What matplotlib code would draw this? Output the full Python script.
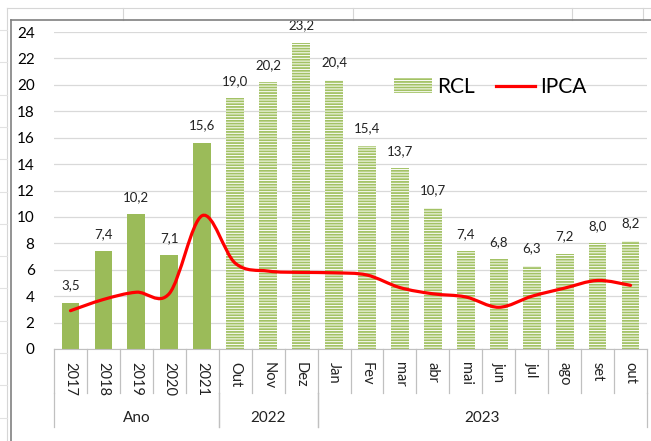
import matplotlib
matplotlib.use("Agg")
import matplotlib.pyplot as plt
import numpy as np
from matplotlib.path import Path
from matplotlib.patches import PathPatch, Patch
from matplotlib.lines import Line2D

plt.rcParams['font.family'] = ['Lato', 'DejaVu Sans']
plt.rcParams['hatch.linewidth'] = 1.3

categories = ['2017', '2018', '2019', '2020', '2021', 'Out', 'Nov', 'Dez',
              'Jan', 'Fev', 'mar', 'abr', 'mai', 'jun', 'jul', 'ago', 'set', 'out']
groups = ['Ano', '2022', '2023']
group_sizes = [5, 3, 10]
rcl = [3.5, 7.4, 10.2, 7.1, 15.6, 19.0, 20.2, 23.2, 20.4, 15.4, 13.7, 10.7,
       7.4, 6.8, 6.3, 7.2, 8.0, 8.2]
ipca = [2.9, 3.75, 4.3, 4.2, 10.1, 6.5, 5.9, 5.8, 5.77, 5.6, 4.65, 4.18,
        3.94, 3.16, 3.99, 4.61, 5.19, 4.82]

green = '#9bbb59'
hatch_green = '#a3c265'
grid_gray = '#d9d9d9'
sep_gray = '#c0c0c0'

W, H = 651, 441
fig = plt.figure(figsize=(W / 100, H / 100), dpi=100)
ax = fig.add_axes([54 / W, 1 - 349 / H, (647 - 54) / W, 317 / H])

x = np.arange(len(categories))
n_solid = group_sizes[0]

ax.bar(x[:n_solid], rcl[:n_solid], width=0.54, color=green, zorder=2)
ax.bar(x[n_solid:], rcl[n_solid:], width=0.54, facecolor='white',
       edgecolor=hatch_green, hatch='------', linewidth=0, zorder=2)

for xi, v in zip(x, rcl):
    ax.annotate(f"{v:.1f}".replace('.', ','), (xi, v), xytext=(0, 12.5),
                textcoords='offset points', ha='center', va='center',
                fontsize=9.5, color='#222222')

# smoothed line (Excel-like bezier through points)
pts = np.column_stack([x, ipca]).astype(float)
ext = np.vstack([pts[0], pts, pts[-1]])
verts = [tuple(pts[0])]
codes = [Path.MOVETO]
for i in range(len(pts) - 1):
    p0, p1, p2, p3 = ext[i], ext[i + 1], ext[i + 2], ext[i + 3]
    c1 = p1 + (p2 - p0) / 6
    c2 = p2 - (p3 - p1) / 6
    verts += [tuple(c1), tuple(c2), tuple(p2)]
    codes += [Path.CURVE4] * 3
ax.add_patch(PathPatch(Path(verts, codes), facecolor='none', edgecolor='#ff0000',
                       linewidth=2.3, capstyle='round', zorder=3))

ax.set_xlim(-0.5, len(categories) - 0.5)
ax.set_ylim(0, 24)
ax.set_yticks(range(0, 25, 2))
ax.tick_params(axis='y', length=0, pad=14, labelsize=11)
ax.grid(axis='y', color=grid_gray, linewidth=0.9, zorder=0)
ax.set_axisbelow(True)
for s in ['left', 'right', 'top']:
    ax.spines[s].set_visible(False)
ax.spines['bottom'].set_color(sep_gray)
ax.set_xticks([])

# category labels and separators
tr = ax.get_xaxis_transform()
for xi, lab in zip(x, categories):
    ax.text(xi, -0.04, lab, transform=tr, rotation=-90, ha='center', va='top',
            fontsize=10.5, color='#222222')
for b in np.arange(-0.5, len(categories), 1.0):
    ax.plot([b, b], [0, -0.139], transform=tr, color=sep_gray, lw=0.9, clip_on=False)
start = -0.5
for g, n in zip(groups, group_sizes):
    end = start + n
    ax.plot([start, start], [-0.139, -0.246], transform=tr, color=sep_gray, lw=0.9, clip_on=False)
    ax.plot([end, end], [-0.139, -0.246], transform=tr, color=sep_gray, lw=0.9, clip_on=False)
    ax.text((start + end) / 2, -0.218, g, transform=tr, ha='center', va='center',
            fontsize=11, color='#222222')
    start = end

handles = [Patch(facecolor='white', edgecolor=hatch_green, hatch='------', linewidth=0),
           Line2D([], [], color='#ff0000', lw=2.3)]
ax.legend(handles, ['RCL', 'IPCA'], loc='center', bbox_to_anchor=(490 / W, 1 - 87 / H),
          bbox_transform=fig.transFigure, ncol=2, frameon=False, fontsize=15,
          handlelength=1.85, handleheight=0.75, columnspacing=1.0, handletextpad=0.25)

# spreadsheet background and chart frame
def fig_line(xs, ys, color, lw):
    fig.add_artist(Line2D([v / W for v in xs], [1 - v / H for v in ys],
                          transform=fig.transFigure, color=color, lw=lw))

fig_line([7, W], [8, 8], '#d6d6d6', 0.8)
fig_line([7, 7], [8, H], '#d6d6d6', 0.8)
for xv in [123, 353, 572, 643]:
    fig_line([xv, xv], [8, 20], '#d6d6d6', 0.8)
for yv in np.arange(30, H, 32.3):
    fig_line([0, 7], [yv, yv], '#e2e2e2', 0.8)
fig_line([11, 11], [20, H], '#808080', 1.2)
fig_line([11, W], [20, 20], '#808080', 1.2)

fig.savefig('out.png', dpi=100)
